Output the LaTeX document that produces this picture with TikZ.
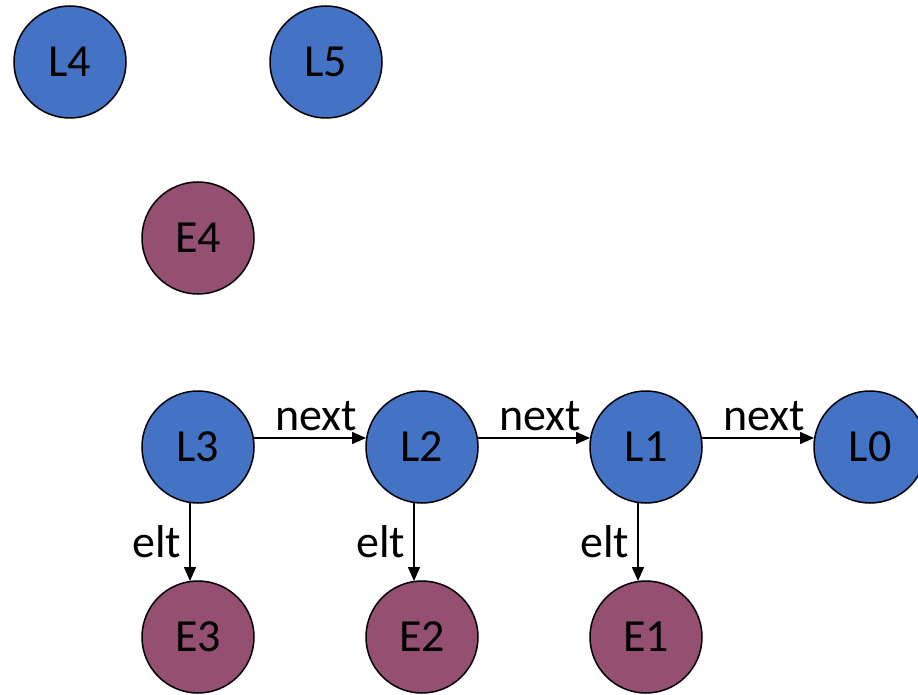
\documentclass[tikz,border=0pt]{standalone}
\usepackage{fontspec}
\setmainfont{Carlito}
\usetikzlibrary{arrows.meta}
\definecolor{lblue}{HTML}{4472C4}
\definecolor{emaroon}{HTML}{954F72}
\begin{document}
\begin{tikzpicture}[x=1pt,y=-1pt,
  ball/.style={circle,draw=black,line width=1.5pt,minimum size=112pt,inner sep=0pt,font=\fontsize{46}{52}\selectfont},
  lnode/.style={ball,fill=lblue},
  enode/.style={ball,fill=emaroon},
  link/.style={line width=1.5pt,-{Triangle[length=14pt,width=12pt]}},
  lab/.style={font=\fontsize{46}{52}\selectfont,inner sep=2pt}]
\useasboundingbox (0,0) rectangle (918,695);
\node[lnode] (L4) at (70,62) {L4};
\node[lnode] (L5) at (326,62) {L5};
\node[enode] (E4) at (198,238) {E4};
\node[lnode] (L3) at (198,447) {L3};
\node[lnode] (L2) at (422,447) {L2};
\node[lnode] (L1) at (646,447) {L1};
\node[lnode] (L0) at (870,447) {L0};
\node[enode] (E3) at (198,637) {E3};
\node[enode] (E2) at (422,637) {E2};
\node[enode] (E1) at (646,637) {E1};
\foreach \a/\b in {L3/L2,L2/L1,L1/L0}{
  \draw[link] ([shift={(56,-9)}]\a.center) -- node[lab,above=4pt,xshift=6pt]{next} ([shift={(-56,-9)}]\b.center);
}
\foreach \a/\b in {L3/E3,L2/E2,L1/E1}{
  \draw[link] ([shift={(-8,56)}]\a.center) -- node[lab,left=6pt]{elt} ([shift={(-8,-56)}]\b.center);
}
\end{tikzpicture}
\end{document}
